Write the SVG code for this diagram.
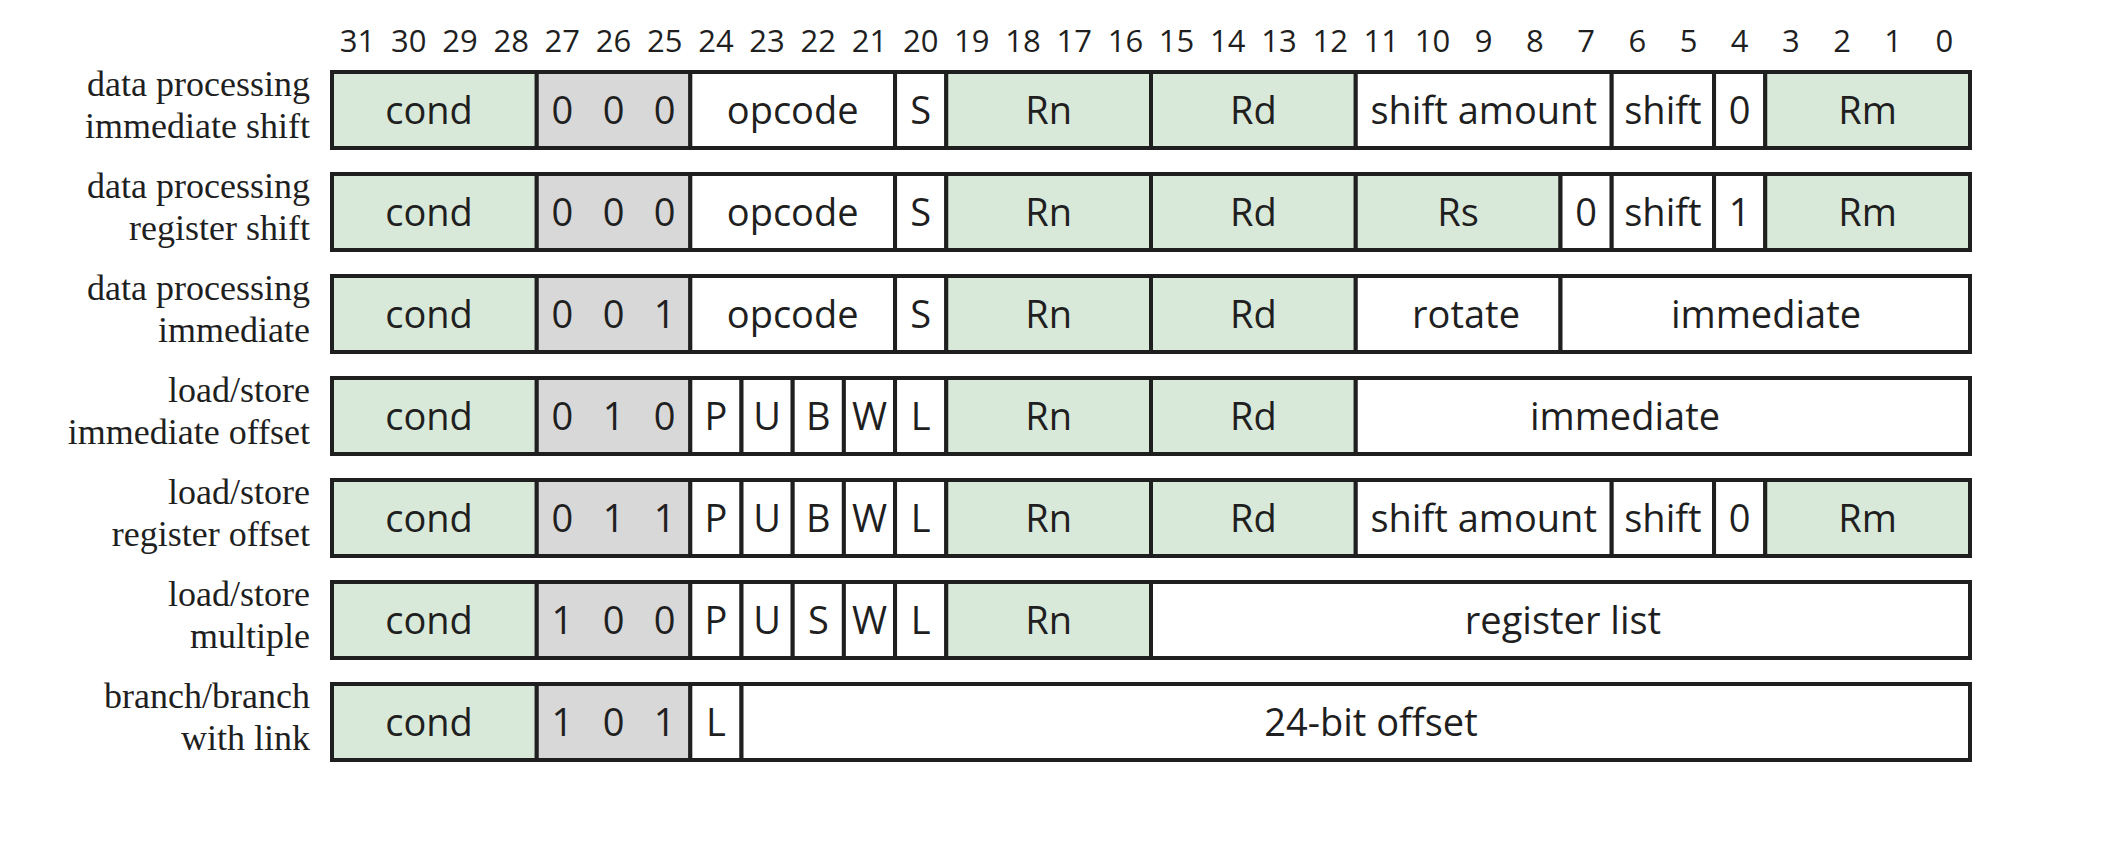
<svg xmlns="http://www.w3.org/2000/svg" width="2118" height="860" viewBox="0 0 2118 860">
<style>
.g{fill:#d9e9d9}
.k{fill:#d8d8d8}
.w{fill:#ffffff}
.f{stroke:#1f1f1f;stroke-width:4}
.t{font-family:"Open Sans","Noto Sans",sans-serif;font-size:38px;fill:#1f1f1f;text-anchor:middle}
.n{font-family:"Open Sans","Noto Sans",sans-serif;font-size:31px;fill:#1f1f1f;text-anchor:middle}
.l{font-family:"Liberation Serif","Times New Roman",serif;font-size:36px;fill:#1f1f1f;text-anchor:end}
</style>
<rect width="2118" height="860" fill="#ffffff"/>
<g id="bit-numbers">
<text class="n" x="357.6" y="52">31</text>
<text class="n" x="408.8" y="52">30</text>
<text class="n" x="460.0" y="52">29</text>
<text class="n" x="511.2" y="52">28</text>
<text class="n" x="562.3" y="52">27</text>
<text class="n" x="613.5" y="52">26</text>
<text class="n" x="664.7" y="52">25</text>
<text class="n" x="715.9" y="52">24</text>
<text class="n" x="767.1" y="52">23</text>
<text class="n" x="818.3" y="52">22</text>
<text class="n" x="869.5" y="52">21</text>
<text class="n" x="920.7" y="52">20</text>
<text class="n" x="971.8" y="52">19</text>
<text class="n" x="1023.0" y="52">18</text>
<text class="n" x="1074.2" y="52">17</text>
<text class="n" x="1125.4" y="52">16</text>
<text class="n" x="1176.6" y="52">15</text>
<text class="n" x="1227.8" y="52">14</text>
<text class="n" x="1279.0" y="52">13</text>
<text class="n" x="1330.2" y="52">12</text>
<text class="n" x="1381.3" y="52">11</text>
<text class="n" x="1432.5" y="52">10</text>
<text class="n" x="1483.7" y="52">9</text>
<text class="n" x="1534.9" y="52">8</text>
<text class="n" x="1586.1" y="52">7</text>
<text class="n" x="1637.3" y="52">6</text>
<text class="n" x="1688.5" y="52">5</text>
<text class="n" x="1739.7" y="52">4</text>
<text class="n" x="1790.8" y="52">3</text>
<text class="n" x="1842.0" y="52">2</text>
<text class="n" x="1893.2" y="52">1</text>
<text class="n" x="1944.4" y="52">0</text>
</g>
<g id="connectors"/>

<g id="row1">
<text class="l" x="310" y="95.5">data processing</text>
<text class="l" x="310" y="137.5">immediate shift</text>
<rect class="g f" x="332" y="72" width="204.75" height="76"/>
<rect class="k f" x="536.75" y="72" width="153.56" height="76"/>
<rect class="w f" x="690.31" y="72" width="204.75" height="76"/>
<rect class="w f" x="895.06" y="72" width="51.19" height="76"/>
<rect class="g f" x="946.25" y="72" width="204.75" height="76"/>
<rect class="g f" x="1151" y="72" width="204.75" height="76"/>
<rect class="w f" x="1355.75" y="72" width="255.94" height="76"/>
<rect class="w f" x="1611.69" y="72" width="102.37" height="76"/>
<rect class="w f" x="1714.06" y="72" width="51.19" height="76"/>
<rect class="g f" x="1765.25" y="72" width="204.75" height="76"/>
<text class="t" x="429" y="124">cond</text>
<text class="t" x="562.3" y="124">0</text>
<text class="t" x="613.5" y="124">0</text>
<text class="t" x="664.7" y="124">0</text>
<text class="t" x="792.7" y="124">opcode</text>
<text class="t" x="920.7" y="124">S</text>
<text class="t" x="1048.6" y="124">Rn</text>
<text class="t" x="1253.4" y="124">Rd</text>
<text class="t" x="1483.7" y="124">shift amount</text>
<text class="t" x="1662.9" y="124">shift</text>
<text class="t" x="1739.7" y="124">0</text>
<text class="t" x="1867.6" y="124">Rm</text>
</g>

<g id="row2">
<text class="l" x="310" y="197.5">data processing</text>
<text class="l" x="310" y="239.5">register shift</text>
<rect class="g f" x="332" y="174" width="204.75" height="76"/>
<rect class="k f" x="536.75" y="174" width="153.56" height="76"/>
<rect class="w f" x="690.31" y="174" width="204.75" height="76"/>
<rect class="w f" x="895.06" y="174" width="51.19" height="76"/>
<rect class="g f" x="946.25" y="174" width="204.75" height="76"/>
<rect class="g f" x="1151" y="174" width="204.75" height="76"/>
<rect class="g f" x="1355.75" y="174" width="204.75" height="76"/>
<rect class="w f" x="1560.5" y="174" width="51.19" height="76"/>
<rect class="w f" x="1611.69" y="174" width="102.37" height="76"/>
<rect class="w f" x="1714.06" y="174" width="51.19" height="76"/>
<rect class="g f" x="1765.25" y="174" width="204.75" height="76"/>
<text class="t" x="429" y="226">cond</text>
<text class="t" x="562.3" y="226">0</text>
<text class="t" x="613.5" y="226">0</text>
<text class="t" x="664.7" y="226">0</text>
<text class="t" x="792.7" y="226">opcode</text>
<text class="t" x="920.7" y="226">S</text>
<text class="t" x="1048.6" y="226">Rn</text>
<text class="t" x="1253.4" y="226">Rd</text>
<text class="t" x="1458.1" y="226">Rs</text>
<text class="t" x="1586.1" y="226">0</text>
<text class="t" x="1662.9" y="226">shift</text>
<text class="t" x="1739.7" y="226">1</text>
<text class="t" x="1867.6" y="226">Rm</text>
</g>

<g id="row3">
<text class="l" x="310" y="299.5">data processing</text>
<text class="l" x="310" y="341.5">immediate</text>
<rect class="g f" x="332" y="276" width="204.75" height="76"/>
<rect class="k f" x="536.75" y="276" width="153.56" height="76"/>
<rect class="w f" x="690.31" y="276" width="204.75" height="76"/>
<rect class="w f" x="895.06" y="276" width="51.19" height="76"/>
<rect class="g f" x="946.25" y="276" width="204.75" height="76"/>
<rect class="g f" x="1151" y="276" width="204.75" height="76"/>
<rect class="w f" x="1355.75" y="276" width="204.75" height="76"/>
<rect class="w f" x="1560.5" y="276" width="409.5" height="76"/>
<text class="t" x="429" y="328">cond</text>
<text class="t" x="562.3" y="328">0</text>
<text class="t" x="613.5" y="328">0</text>
<text class="t" x="664.7" y="328">1</text>
<text class="t" x="792.7" y="328">opcode</text>
<text class="t" x="920.7" y="328">S</text>
<text class="t" x="1048.6" y="328">Rn</text>
<text class="t" x="1253.4" y="328">Rd</text>
<text class="t" x="1466" y="328">rotate</text>
<text class="t" x="1766" y="328">immediate</text>
</g>

<g id="row4">
<text class="l" x="310" y="401.5">load/store</text>
<text class="l" x="310" y="443.5">immediate offset</text>
<rect class="g f" x="332" y="378" width="204.75" height="76"/>
<rect class="k f" x="536.75" y="378" width="153.56" height="76"/>
<rect class="w f" x="690.31" y="378" width="51.19" height="76"/>
<rect class="w f" x="741.5" y="378" width="51.19" height="76"/>
<rect class="w f" x="792.69" y="378" width="51.19" height="76"/>
<rect class="w f" x="843.88" y="378" width="51.19" height="76"/>
<rect class="w f" x="895.06" y="378" width="51.19" height="76"/>
<rect class="g f" x="946.25" y="378" width="204.75" height="76"/>
<rect class="g f" x="1151" y="378" width="204.75" height="76"/>
<rect class="w f" x="1355.75" y="378" width="614.25" height="76"/>
<text class="t" x="429" y="430">cond</text>
<text class="t" x="562.3" y="430">0</text>
<text class="t" x="613.5" y="430">1</text>
<text class="t" x="664.7" y="430">0</text>
<text class="t" x="715.9" y="430">P</text>
<text class="t" x="767.1" y="430">U</text>
<text class="t" x="818.3" y="430">B</text>
<text class="t" x="869.5" y="430">W</text>
<text class="t" x="920.7" y="430">L</text>
<text class="t" x="1048.6" y="430">Rn</text>
<text class="t" x="1253.4" y="430">Rd</text>
<text class="t" x="1625" y="430">immediate</text>
</g>

<g id="row5">
<text class="l" x="310" y="503.5">load/store</text>
<text class="l" x="310" y="545.5">register offset</text>
<rect class="g f" x="332" y="480" width="204.75" height="76"/>
<rect class="k f" x="536.75" y="480" width="153.56" height="76"/>
<rect class="w f" x="690.31" y="480" width="51.19" height="76"/>
<rect class="w f" x="741.5" y="480" width="51.19" height="76"/>
<rect class="w f" x="792.69" y="480" width="51.19" height="76"/>
<rect class="w f" x="843.88" y="480" width="51.19" height="76"/>
<rect class="w f" x="895.06" y="480" width="51.19" height="76"/>
<rect class="g f" x="946.25" y="480" width="204.75" height="76"/>
<rect class="g f" x="1151" y="480" width="204.75" height="76"/>
<rect class="w f" x="1355.75" y="480" width="255.94" height="76"/>
<rect class="w f" x="1611.69" y="480" width="102.37" height="76"/>
<rect class="w f" x="1714.06" y="480" width="51.19" height="76"/>
<rect class="g f" x="1765.25" y="480" width="204.75" height="76"/>
<text class="t" x="429" y="532">cond</text>
<text class="t" x="562.3" y="532">0</text>
<text class="t" x="613.5" y="532">1</text>
<text class="t" x="664.7" y="532">1</text>
<text class="t" x="715.9" y="532">P</text>
<text class="t" x="767.1" y="532">U</text>
<text class="t" x="818.3" y="532">B</text>
<text class="t" x="869.5" y="532">W</text>
<text class="t" x="920.7" y="532">L</text>
<text class="t" x="1048.6" y="532">Rn</text>
<text class="t" x="1253.4" y="532">Rd</text>
<text class="t" x="1483.7" y="532">shift amount</text>
<text class="t" x="1662.9" y="532">shift</text>
<text class="t" x="1739.7" y="532">0</text>
<text class="t" x="1867.6" y="532">Rm</text>
</g>

<g id="row6">
<text class="l" x="310" y="605.5">load/store</text>
<text class="l" x="310" y="647.5">multiple</text>
<rect class="g f" x="332" y="582" width="204.75" height="76"/>
<rect class="k f" x="536.75" y="582" width="153.56" height="76"/>
<rect class="w f" x="690.31" y="582" width="51.19" height="76"/>
<rect class="w f" x="741.5" y="582" width="51.19" height="76"/>
<rect class="w f" x="792.69" y="582" width="51.19" height="76"/>
<rect class="w f" x="843.88" y="582" width="51.19" height="76"/>
<rect class="w f" x="895.06" y="582" width="51.19" height="76"/>
<rect class="g f" x="946.25" y="582" width="204.75" height="76"/>
<rect class="w f" x="1151" y="582" width="819" height="76"/>
<text class="t" x="429" y="634">cond</text>
<text class="t" x="562.3" y="634">1</text>
<text class="t" x="613.5" y="634">0</text>
<text class="t" x="664.7" y="634">0</text>
<text class="t" x="715.9" y="634">P</text>
<text class="t" x="767.1" y="634">U</text>
<text class="t" x="818.3" y="634">S</text>
<text class="t" x="869.5" y="634">W</text>
<text class="t" x="920.7" y="634">L</text>
<text class="t" x="1048.6" y="634">Rn</text>
<text class="t" x="1563" y="634">register list</text>
</g>

<g id="row7">
<text class="l" x="310" y="707.5">branch/branch</text>
<text class="l" x="310" y="749.5">with link</text>
<rect class="g f" x="332" y="684" width="204.75" height="76"/>
<rect class="k f" x="536.75" y="684" width="153.56" height="76"/>
<rect class="w f" x="690.31" y="684" width="51.19" height="76"/>
<rect class="w f" x="741.5" y="684" width="1228.5" height="76"/>
<text class="t" x="429" y="736">cond</text>
<text class="t" x="562.3" y="736">1</text>
<text class="t" x="613.5" y="736">0</text>
<text class="t" x="664.7" y="736">1</text>
<text class="t" x="715.9" y="736">L</text>
<text class="t" x="1371" y="736">24-bit offset</text>
</g>
</svg>
